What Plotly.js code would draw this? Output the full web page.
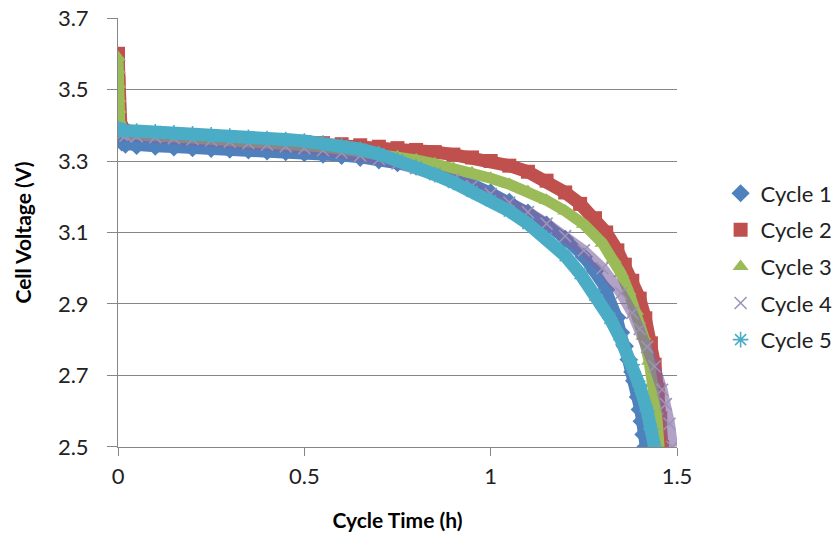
<!DOCTYPE html>
<html><head><meta charset="utf-8">
<script src="https://cdn.plot.ly/plotly-3.0.1.min.js"></script>
<style>html,body{margin:0;padding:0;background:#fff}#chart{width:837px;height:559px}</style>
</head><body><div id="chart"></div>
<script>
const cycleNames = ['Cycle 1', 'Cycle 2', 'Cycle 3', 'Cycle 4', 'Cycle 5'];

const c1Time = [0.000, 0.004, 0.010, 0.020, 0.05, 0.10, 0.15, 0.20, 0.25, 0.30, 0.35, 0.40, 0.45, 0.50, 0.55, 0.60, 0.65, 0.70, 0.75, 0.80, 0.85, 0.90, 0.95, 1.00, 1.05, 1.10, 1.15, 1.20, 1.25, 1.28, 1.31, 1.34, 1.35, 1.36, 1.37, 1.38, 1.385, 1.395, 1.40, 1.405, 1.41, 1.415];
const c1Volt = [3.370, 3.360, 3.352, 3.346, 3.342, 3.340, 3.338, 3.336, 3.334, 3.332, 3.330, 3.327, 3.325, 3.322, 3.318, 3.314, 3.309, 3.302, 3.294, 3.284, 3.271, 3.256, 3.236, 3.212, 3.186, 3.156, 3.122, 3.082, 3.032, 2.992, 2.940, 2.862, 2.820, 2.782, 2.745, 2.710, 2.685, 2.640, 2.605, 2.572, 2.535, 2.500];

const c2Time = [0.000, 0.000, 0.001, 0.001, 0.002, 0.003, 0.005, 0.008, 0.012, 0.020, 0.05, 0.10, 0.15, 0.20, 0.25, 0.30, 0.35, 0.40, 0.45, 0.50, 0.55, 0.60, 0.65, 0.70, 0.75, 0.80, 0.85, 0.90, 0.95, 1.00, 1.05, 1.10, 1.15, 1.20, 1.24, 1.28, 1.31, 1.34, 1.36, 1.38, 1.40, 1.415, 1.43, 1.44, 1.448, 1.455, 1.460];
const c2Volt = [3.600, 3.560, 3.520, 3.480, 3.450, 3.420, 3.400, 3.390, 3.385, 3.382, 3.380, 3.377, 3.374, 3.371, 3.368, 3.365, 3.362, 3.359, 3.356, 3.353, 3.350, 3.347, 3.344, 3.340, 3.336, 3.331, 3.325, 3.318, 3.310, 3.300, 3.287, 3.270, 3.245, 3.212, 3.180, 3.140, 3.100, 3.050, 3.010, 2.965, 2.915, 2.860, 2.790, 2.730, 2.660, 2.580, 2.500];

const c3Time = [0.000, 0.000, 0.001, 0.001, 0.002, 0.003, 0.005, 0.008, 0.012, 0.020, 0.05, 0.10, 0.15, 0.20, 0.25, 0.30, 0.35, 0.40, 0.45, 0.50, 0.55, 0.60, 0.65, 0.70, 0.75, 0.80, 0.85, 0.90, 0.95, 1.00, 1.05, 1.10, 1.15, 1.20, 1.25, 1.30, 1.33, 1.35, 1.37, 1.39, 1.41, 1.425, 1.435, 1.445, 1.452];
const c3Volt = [3.590, 3.555, 3.515, 3.475, 3.445, 3.415, 3.395, 3.385, 3.380, 3.377, 3.375, 3.372, 3.369, 3.366, 3.363, 3.360, 3.356, 3.352, 3.348, 3.344, 3.339, 3.333, 3.327, 3.320, 3.312, 3.303, 3.292, 3.280, 3.267, 3.252, 3.235, 3.215, 3.190, 3.160, 3.123, 3.070, 3.025, 2.985, 2.935, 2.880, 2.810, 2.740, 2.680, 2.600, 2.500];

const c4Time = [0.000, 0.005, 0.010, 0.020, 0.05, 0.10, 0.15, 0.20, 0.25, 0.30, 0.35, 0.40, 0.45, 0.50, 0.55, 0.60, 0.65, 0.70, 0.75, 0.80, 0.85, 0.90, 0.95, 1.00, 1.05, 1.10, 1.15, 1.20, 1.25, 1.30, 1.35, 1.38, 1.40, 1.42, 1.44, 1.46, 1.47, 1.48, 1.488];
const c4Volt = [3.385, 3.378, 3.374, 3.371, 3.369, 3.367, 3.364, 3.361, 3.358, 3.354, 3.350, 3.346, 3.341, 3.336, 3.330, 3.323, 3.315, 3.305, 3.293, 3.280, 3.265, 3.248, 3.230, 3.208, 3.184, 3.157, 3.125, 3.090, 3.050, 3.000, 2.930, 2.875, 2.830, 2.780, 2.725, 2.660, 2.620, 2.565, 2.500];

const c5Time = [0.000, 0.005, 0.010, 0.020, 0.05, 0.10, 0.15, 0.20, 0.25, 0.30, 0.35, 0.40, 0.45, 0.50, 0.55, 0.60, 0.65, 0.70, 0.75, 0.80, 0.85, 0.90, 0.95, 1.00, 1.05, 1.10, 1.15, 1.20, 1.24, 1.28, 1.32, 1.35, 1.38, 1.40, 1.42, 1.43, 1.44];
const c5Volt = [3.392, 3.388, 3.386, 3.385, 3.384, 3.382, 3.379, 3.376, 3.373, 3.370, 3.366, 3.363, 3.360, 3.356, 3.350, 3.343, 3.333, 3.320, 3.303, 3.283, 3.262, 3.240, 3.215, 3.190, 3.160, 3.125, 3.085, 3.035, 2.985, 2.925, 2.860, 2.800, 2.730, 2.670, 2.600, 2.550, 2.500];

const xTickVals = [0, 0.5, 1, 1.5];
const xTickText = ['0', '0.5', '1', '1.5'];
const yTickVals = [2.5, 2.7, 2.9, 3.1, 3.3, 3.5, 3.7];
const yTickText = ['2.5', '2.7', '2.9', '3.1', '3.3', '3.5', '3.7'];

const times = [c1Time, c2Time, c3Time, c4Time, c5Time];
const volts = [c1Volt, c2Volt, c3Volt, c4Volt, c5Volt];

const bandColors = ['#4F81BD', '#C0504D', '#9BBB59', 'rgba(128,100,162,0.6)', '#4BACC6'];
const markerColors = ['#4F81BD', '#C0504D', '#9BBB59', '#9d94b5', '#4BACC6'];
const symbols = ['diamond', 'square', 'triangle-up', 'x-thin-open', 'asterisk-open'];
const sizes = [14, 14, 14, 12, 13];
const bandWidths = [11, 13, 11, 11, 13];

const traces = [];
for (let i = 0; i < 5; i++) {
  traces.push({
    x: times[i], y: volts[i], mode: 'lines', type: 'scatter',
    line: {color: bandColors[i], width: bandWidths[i]},
    showlegend: false, hoverinfo: 'skip', legendgroup: 'g' + i
  });
  const open = symbols[i].indexOf('open') >= 0;
  traces.push({
    x: times[i], y: volts[i], mode: 'markers', type: 'scatter',
    name: cycleNames[i], legendgroup: 'g' + i,
    marker: {
      symbol: symbols[i], size: sizes[i], color: markerColors[i],
      line: {color: markerColors[i], width: open ? 1.6 : 0}
    }
  });
}

const fontFam = 'Lato, "Open Sans", sans-serif';
const layout = {
  width: 837, height: 559,
  margin: {l: 118, r: 160, t: 18, b: 112, autoexpand: false},
  paper_bgcolor: '#ffffff', plot_bgcolor: '#ffffff',
  font: {family: fontFam, size: 22, color: '#222'},
  showlegend: true,
  xaxis: {
    range: [0, 1.5], tickmode: 'array', tickvals: xTickVals, ticktext: xTickText,
    showgrid: false, zeroline: false, showline: true, linecolor: '#868686', linewidth: 1,
    ticks: 'outside', ticklen: 8, tickcolor: '#868686', ticklabelstandoff: 2,
    tickfont: {family: fontFam, size: 22, color: '#222'},
    title: {text: '<b>Cycle Time (h)</b>', font: {family: fontFam, size: 21, color: '#000'}, standoff: 24}
  },
  yaxis: {
    range: [2.4999, 3.7001], tickmode: 'array', tickvals: yTickVals, ticktext: yTickText,
    showgrid: true, gridcolor: '#868686', gridwidth: 1, zeroline: false,
    showline: true, linecolor: '#868686', linewidth: 1,
    ticks: 'outside', ticklen: 10, tickcolor: '#868686', ticklabelstandoff: 14,
    tickfont: {family: fontFam, size: 22, color: '#222'},
    title: {text: '<b>Cell Voltage (V)</b>', font: {family: fontFam, size: 21, color: '#000'}, standoff: 20}
  },
  legend: {
    x: 1.078, xanchor: 'left', y: 0.64, yanchor: 'top',
    font: {family: fontFam, size: 22, color: '#222'},
    traceorder: 'grouped', tracegroupgap: 5, bgcolor: 'rgba(0,0,0,0)'
  }
};

Plotly.newPlot('chart', traces, layout, {staticPlot: true, displayModeBar: false});
</script></body></html>
